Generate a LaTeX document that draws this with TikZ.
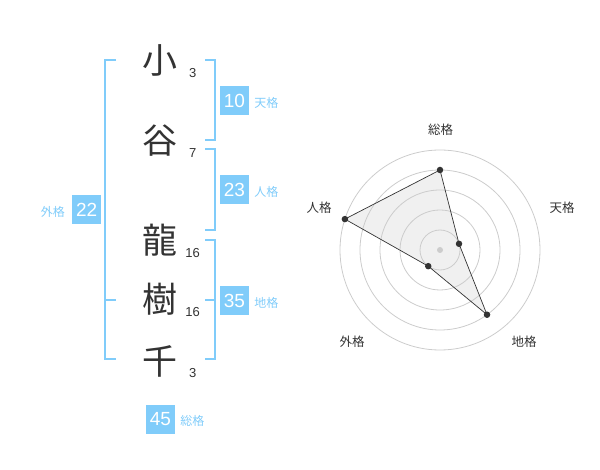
\documentclass[tikz,border=0pt]{standalone}
\usepackage{fontspec}
\setmainfont{Liberation Sans}
\newfontfamily\jpfont{Noto Sans CJK JP}
\definecolor{kaku}{RGB}{128,204,250}
\definecolor{ink}{RGB}{51,51,51}
\begin{document}
\begin{tikzpicture}[x=1pt,y=-1pt,
  kanji/.style={inner sep=0pt,text=ink,font=\jpfont\fontsize{35}{35}\selectfont},
  stroke/.style={inner sep=0pt,text=ink,font=\fontsize{13}{13}\selectfont},
  score/.style={fill=kaku,text=white,minimum size=29pt,inner sep=0pt,font=\fontsize{19}{19}\selectfont},
  kind/.style={inner sep=0pt,text=kaku,font=\jpfont\fontsize{12}{12}\selectfont},
  brace/.style={draw=kaku,line width=2pt},
  ring/.style={draw=black!20,line width=0.8pt},
  axis/.style={inner sep=0pt,text=ink,font=\jpfont\fontsize{12.5}{12.5}\selectfont},
  dot/.style={circle,fill=ink,inner sep=0pt,minimum size=6.5pt}]
\useasboundingbox (0,0) rectangle (600,470);

% name column
\node [kanji] (k1) at (160,60) {小};
\node [kanji] (k2) at (160,141) {谷};
\node [kanji] (k3) at (160,240) {龍};
\node [kanji] (k4) at (160,299) {樹};
\node [kanji] (k5) at (160,361) {千};
\node [stroke] (s1) at (192.7,72.7) {3};
\node [stroke] (s2) at (192.7,152.7) {7};
\node [stroke] (s3) at (192.7,252.7) {16};
\node [stroke] (s4) at (192.7,311.7) {16};
\node [stroke] (s5) at (192.7,373.3) {3};

% brackets
\draw [brace] (205,60) -- (215,60) -- (215,140) -- (205,140);
\draw [brace] (205,149) -- (215,149) -- (215,230) -- (205,230);
\draw [brace] (205,240) -- (215,240) -- (215,359) -- (205,359);
\draw [brace] (205,300) -- (215,300);
\draw [brace] (116,60) -- (105,60) -- (105,359) -- (116,359);
\draw [brace] (105,300) -- (116,300);

% scores
\node [score] (ten) at (234.5,100.5) {10};
\node [score] (jin) at (234.5,190) {23};
\node [score] (chi) at (234.5,300.5) {35};
\node [score] (gai) at (86.7,210) {22};
\node [score] (sou) at (160.5,419.3) {45};
\node [kind,anchor=base west] (ten-l) at ([xshift=5pt]ten.base east) {天格};
\node [kind,anchor=base west] (jin-l) at ([xshift=5pt]jin.base east) {人格};
\node [kind,anchor=base west] (chi-l) at ([xshift=5pt]chi.base east) {地格};
\node [kind,anchor=base east] (gai-l) at ([xshift=-7pt]gai.base west) {外格};
\node [kind,anchor=base west] (sou-l) at ([xshift=5pt]sou.base east) {総格};

% radar
\begin{scope}[shift={(440,250)},x=1pt,y=1pt]
  \fill [black!6] (90:80) -- (18:20) -- (-54:80) -- (234:20) -- (162:100) -- cycle;
  \foreach \r in {20,40,60,80,100}
    \draw [ring] (0,0) circle (\r);
  \fill [black!20] (0,0) circle (3);
  \draw [ink,line width=0.7pt] (90:80) -- (18:20) -- (-54:80) -- (234:20) -- (162:100) -- cycle;
  \node [dot] (p1) at (90:80) {};
  \node [dot] (p2) at (18:20) {};
  \node [dot] (p3) at (-54:80) {};
  \node [dot] (p4) at (234:20) {};
  \node [dot] (p5) at (162:100) {};
  \node [axis] (a1) at (0.7,120) {総格};
  \node [axis] (a2) at (122,42) {天格};
  \node [axis] (a3) at (84,-92) {地格};
  \node [axis] (a4) at (-88,-92) {外格};
  \node [axis] (a5) at (-121,42) {人格};
\end{scope}
\end{tikzpicture}
\end{document}
